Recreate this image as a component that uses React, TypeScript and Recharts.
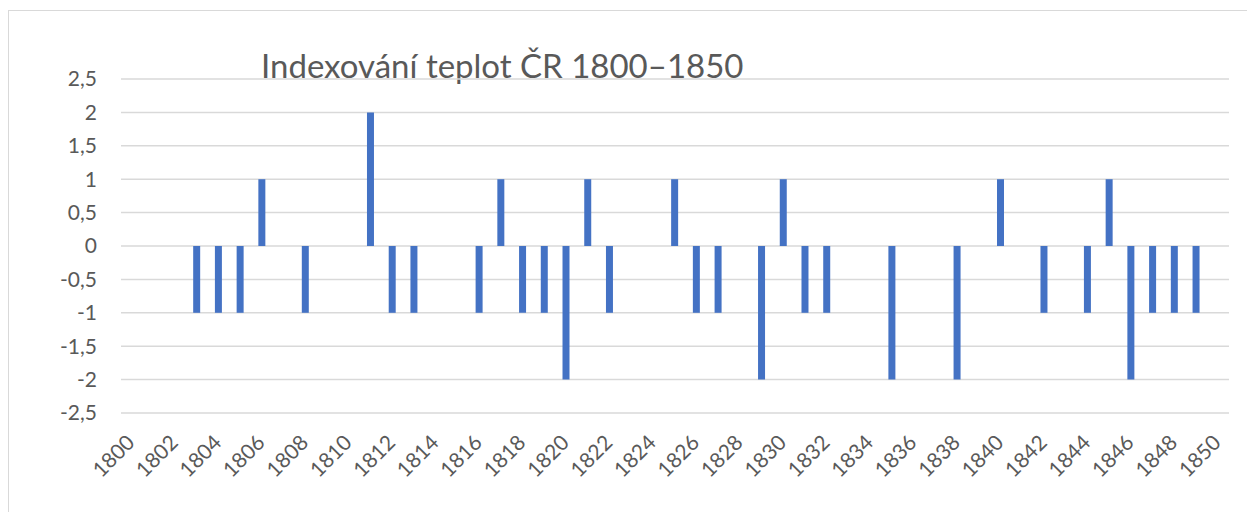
import React from 'react'
import { BarChart, Bar, XAxis, YAxis, CartesianGrid } from 'recharts'

const years = [
    1800, 1801, 1802, 1803, 1804, 1805, 1806, 1807, 1808, 1809,
    1810, 1811, 1812, 1813, 1814, 1815, 1816, 1817, 1818, 1819,
    1820, 1821, 1822, 1823, 1824, 1825, 1826, 1827, 1828, 1829,
    1830, 1831, 1832, 1833, 1834, 1835, 1836, 1837, 1838, 1839,
    1840, 1841, 1842, 1843, 1844, 1845, 1846, 1847, 1848, 1849, 1850,
]

const indexValues = [
    0, 0, 0, -1, -1, -1, 1, 0, -1, 0,
    0, 2, -1, -1, 0, 0, -1, 1, -1, -1,
    -2, 1, -1, 0, 0, 1, -1, -1, 0, -2,
    1, -1, -1, 0, 0, -2, 0, 0, -2, 0,
    1, 0, -1, 0, -1, 1, -2, -1, -1, -1, 0,
]

const yTicks = [-2.5, -2, -1.5, -1, -0.5, 0, 0.5, 1, 1.5, 2, 2.5]

const chartTitle = 'Indexování teplot ČR 1800–1850'

const data = years.map((year, i) => ({ year: String(year), value: indexValues[i] }))

const textColor = '#595959'
const fontFamily = 'Lato, "Open Sans", sans-serif'

const YearTick = (props: any) => {
    const { x, y, payload } = props
    return (
        <g transform={`translate(${x + 4},${y + 31})`}>
            <text
                x={0}
                y={0}
                textAnchor="end"
                transform="rotate(-45)"
                fill={textColor}
                fontSize={21}
                fontFamily={fontFamily}
            >
                {payload.value}
            </text>
        </g>
    )
}

export default function App() {
    return (
        <div
            style={{
                position: 'absolute',
                left: 8,
                top: 10,
                width: 1260,
                height: 520,
                border: '1px solid #d9d9d9',
                background: '#fff',
                fontFamily,
            }}
        >
            <div
                style={{
                    position: 'absolute',
                    left: 252,
                    top: 34,
                    fontSize: 33,
                    color: textColor,
                    whiteSpace: 'nowrap',
                    lineHeight: '40px',
                }}
            >
                {chartTitle}
            </div>
            <BarChart
                width={1239}
                height={500}
                data={data}
                margin={{ top: 68, right: 19, bottom: 0, left: 0 }}
                barSize={7}
            >
                <CartesianGrid vertical={false} stroke="#d9d9d9" strokeWidth={1.5} />
                <XAxis
                    dataKey="year"
                    interval={1}
                    axisLine={false}
                    tickLine={false}
                    tickSize={0}
                    tickMargin={0}
                    height={98}
                    tick={<YearTick />}
                />
                <YAxis
                    type="number"
                    domain={[-2.5, 2.5]}
                    ticks={yTicks}
                    interval={0}
                    width={112}
                    axisLine={false}
                    tickLine={false}
                    tickSize={0}
                    tickMargin={24}
                    tickFormatter={(v: number) => String(v).replace('.', ',')}
                    tick={{ fill: textColor, fontSize: 21, fontFamily }}
                />
                <Bar dataKey="value" fill="#4472c4" isAnimationActive={false} />
            </BarChart>
        </div>
    )
}
